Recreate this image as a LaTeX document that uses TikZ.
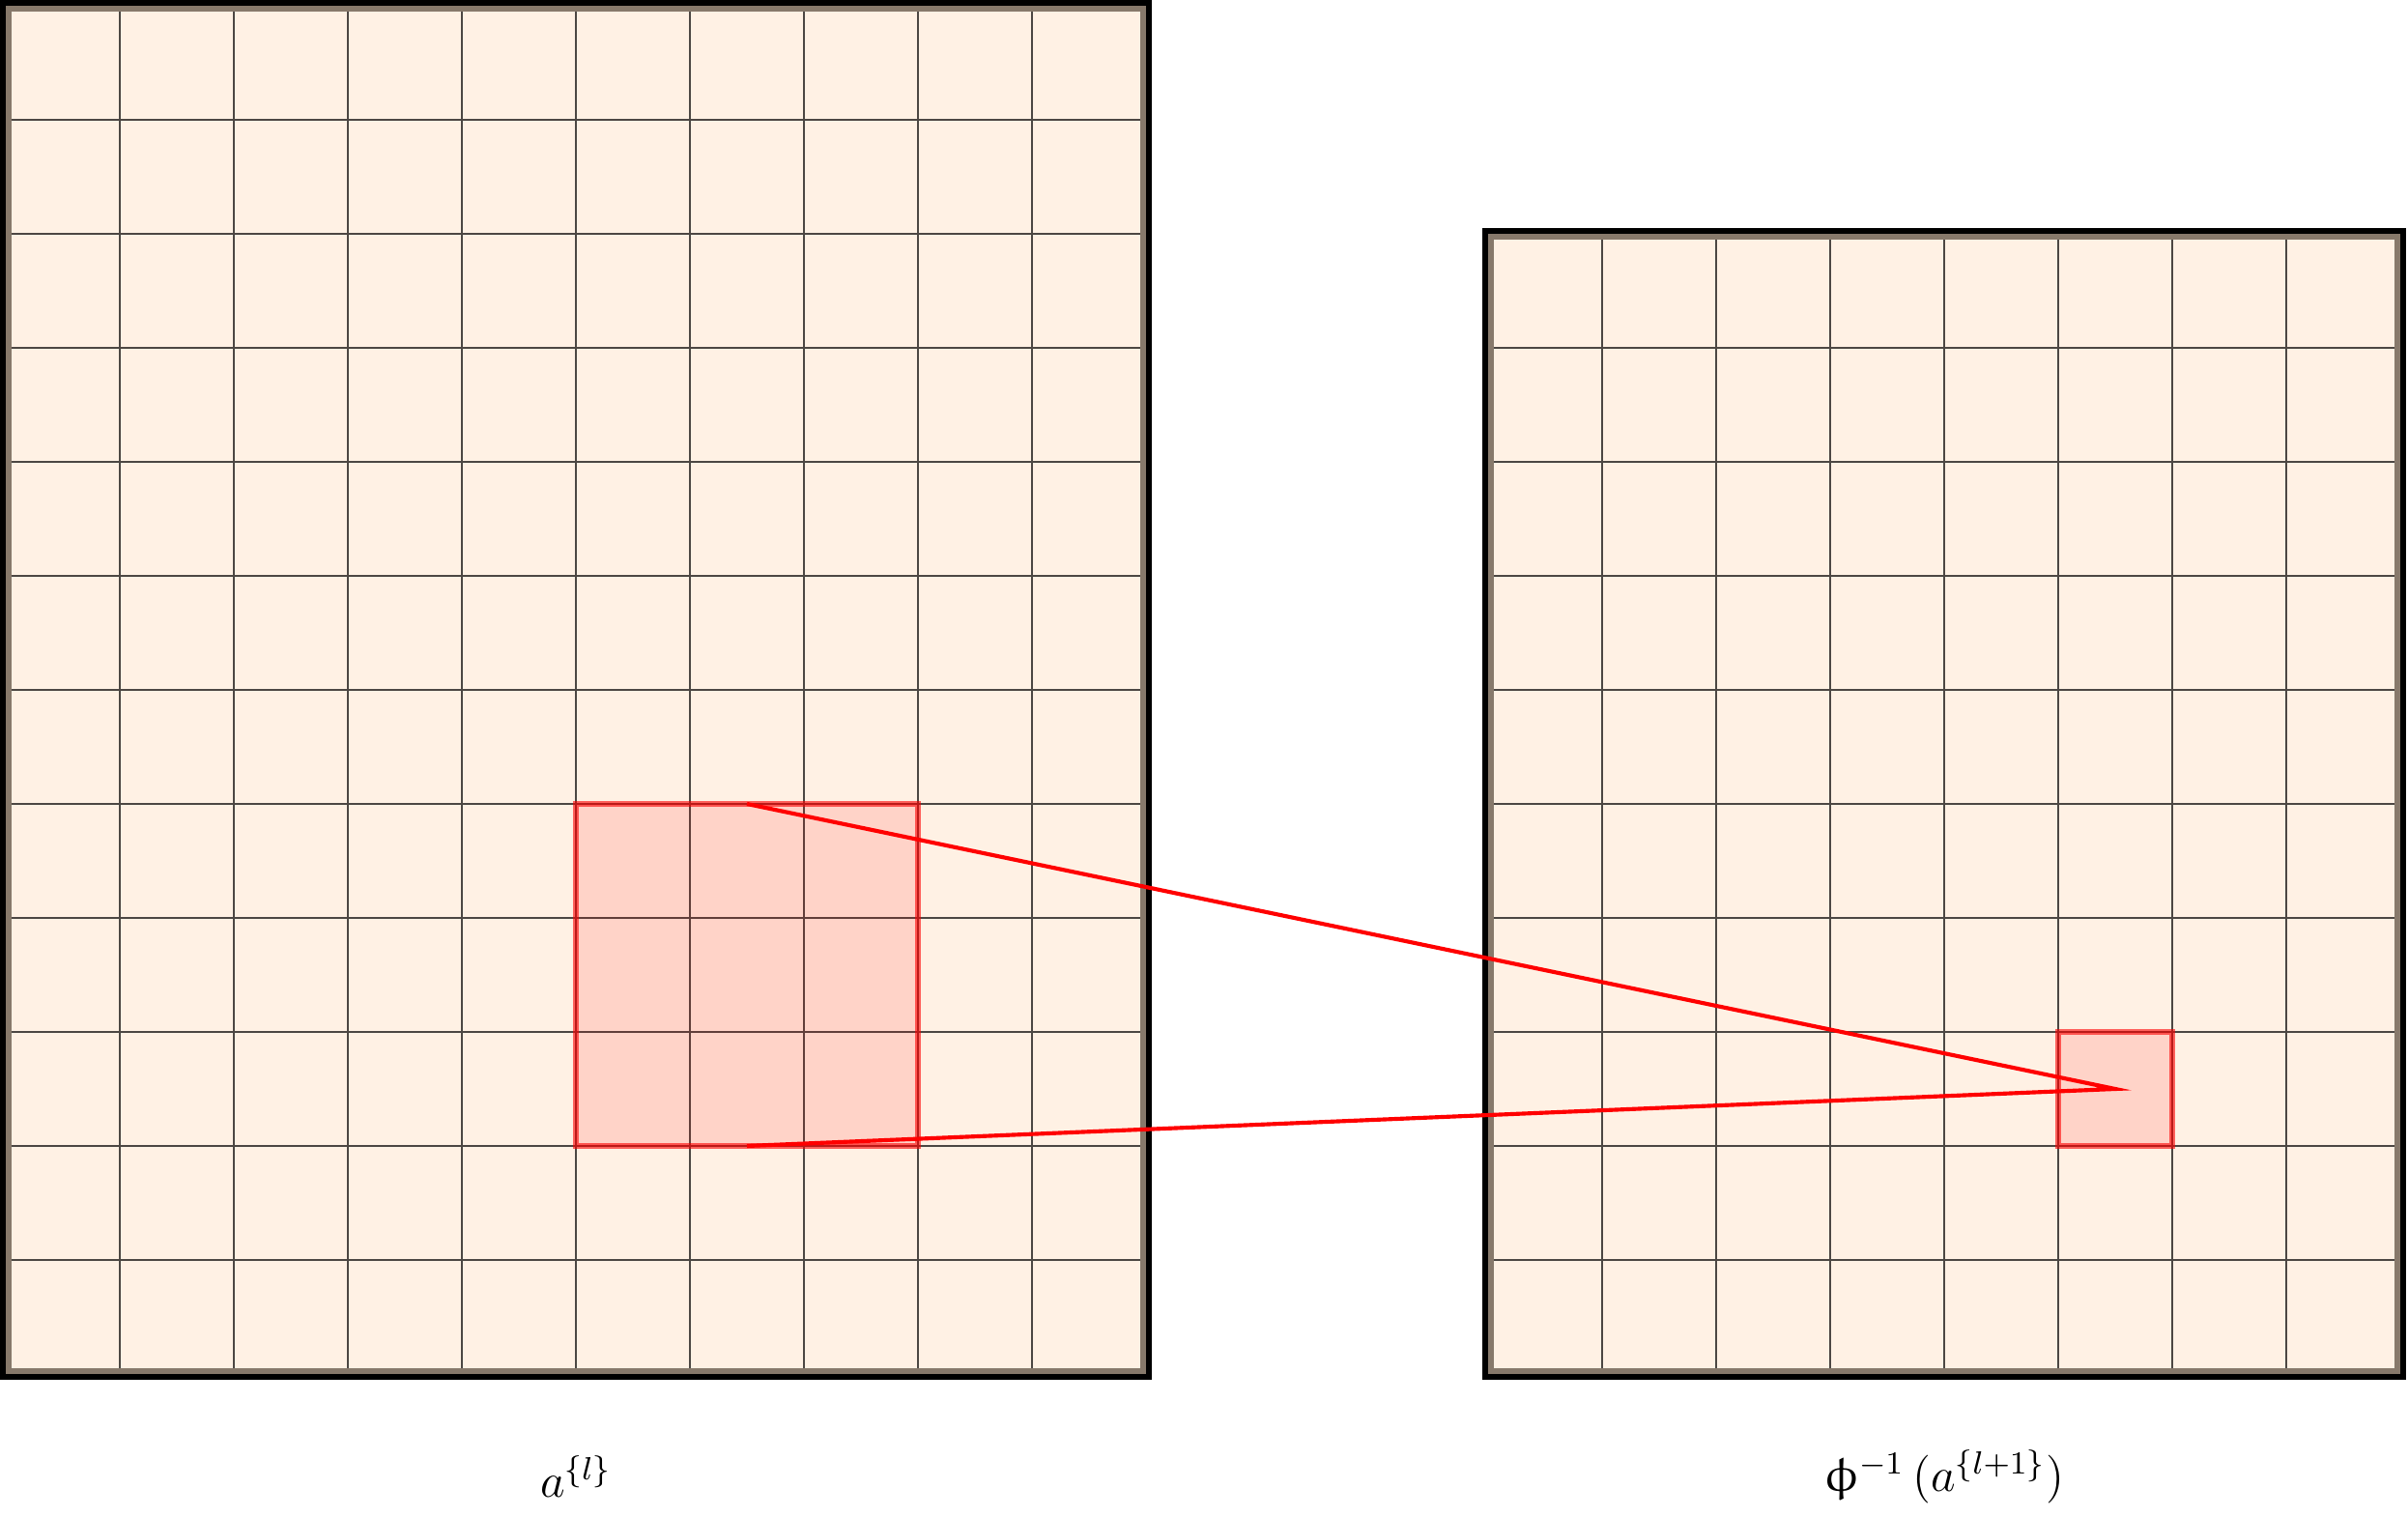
\documentclass[tikz,border=0pt]{standalone}
\usepackage{upgreek}
\usetikzlibrary{positioning}
\definecolor{CellFill}{RGB}{255,241,228}
\definecolor{FrameInner}{RGB}{135,121,107}

\begin{document}
\begin{tikzpicture}[
  cellfill/.style={fill=CellFill},
  gridline/.style={draw=black,draw opacity=0.7,line width=0.5pt},
  frame/.style={draw=black,line width=0.1cm},
  frameinner/.style={draw=FrameInner,line width=0.05cm},
  patch/.style={draw=red,draw opacity=0.6,line width=1.3pt,fill=red,fill opacity=0.12},
  link/.style={draw=red,line width=1pt},
  caption/.style={font=\large}
]
  \useasboundingbox (-0.051,-1.254) rectangle (21.068,12.051);
  % layer l
  \fill[cellfill] (0,0) rectangle (10,12);
  \draw[gridline] (0,0) grid (10,12);
  \draw[frame] (0,0) rectangle (10,12);
  \draw[frameinner] (0.025,0.025) rectangle (9.975,11.975);
  % layer l+1, mapped back
  \fill[cellfill] (13,0) rectangle (21,10);
  \draw[gridline] (13,0) grid (21,10);
  \draw[frame] (13,0) rectangle (21,10);
  \draw[frameinner] (13.025,0.025) rectangle (20.975,9.975);
  % receptive field
  \draw[patch] (5,2) rectangle (8,5);
  \draw[patch] (18,2) rectangle (19,3);
  \coordinate (rf-top) at (6.5,5);
  \coordinate (rf-bot) at (6.5,2);
  \coordinate (px) at (18.5,2.5);
  \draw[link] (rf-top) -- (px) -- (rf-bot);
  \node[caption] (cap-l) at (5,-0.9) {$a^{\{l\}}$};
  \node[caption] (cap-r) at (17,-0.9) {$\upphi^{-1}\,\bigl(a^{\{l+1\}}\bigr)$};
\end{tikzpicture}
\end{document}
